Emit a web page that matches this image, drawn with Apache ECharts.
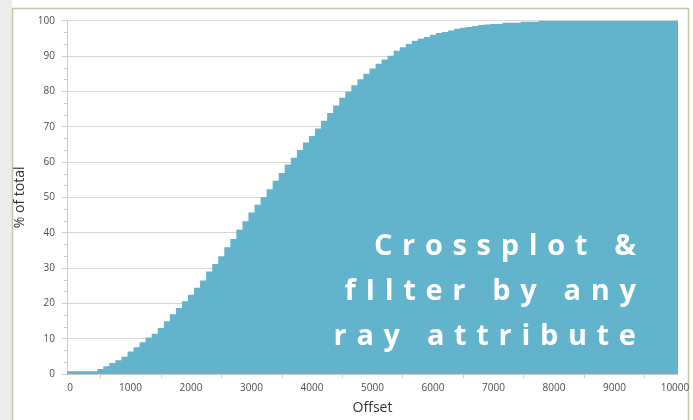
<!DOCTYPE html>
<html>
<head>
<meta charset="utf-8">
<script src="https://cdn.jsdelivr.net/npm/echarts@6/dist/echarts.min.js"></script>
<style>
  html, body { margin: 0; padding: 0; background: #fff; }
  #chart { width: 693px; height: 420px; }
</style>
</head>
<body>
<div id="chart"></div>
<script>
// offset bins, 100 wide, 0 .. 10000
const offsets = Array.from({ length: 101 }, (_, i) => String(i * 100));

// cumulative % of total per bin
const pctTotal = [
  0.8, 0.8, 0.8, 0.8, 0.8, 1.4, 2.2, 3.1, 3.9, 4.9,
  6.4, 7.6, 9.0, 10.3, 11.4, 13.0, 14.9, 16.9, 18.7, 20.6,
  22.4, 24.4, 26.5, 29.0, 31.1, 33.3, 35.9, 38.2, 40.8, 43.2,
  45.7, 47.9, 50.0, 52.3, 54.7, 56.9, 59.3, 61.2, 63.4, 65.5,
  67.4, 69.5, 71.7, 73.9, 76.0, 78.2, 79.9, 81.7, 83.4, 85.0,
  86.5, 87.8, 89.0, 90.1, 91.5, 92.5, 93.4, 94.3, 94.9, 95.4,
  96.0, 96.5, 96.8, 97.2, 97.7, 98.0, 98.2, 98.5, 98.8, 98.9,
  99.1, 99.1, 99.4, 99.4, 99.4, 99.7, 99.7, 99.7, 100, 100,
  100, 100, 100, 100, 100, 100, 100, 100, 100, 100,
  100, 100, 100, 100, 100, 100, 100, 100, 100, 100,
  100
];

const overlayLines = ["Crossplot &", "fIlter by any", "ray attribute"];

// wide letter spacing, done with three-per-em spaces
function spaced(s) {
  return s.split("").join("\u2004");
}

const barColor = "#62b3cc";
const lineColor = "#cccccc";

let chart = echarts.init(document.getElementById("chart"));
let option = {
  animation: false,
  textStyle: { fontFamily: "Open Sans" },
  grid: { left: 67, right: 15, top: 20.7, bottom: 44 },
  xAxis: {
    type: "category",
    data: offsets,
    name: "Offset",
    nameLocation: "middle",
    nameGap: 27,
    nameTextStyle: { fontSize: 14, color: "#333" },
    axisLine: { lineStyle: { color: lineColor } },
    axisTick: {
      show: true,
      alignWithLabel: true,
      length: 4,
      interval: (i) => i % 10 === 5,
      lineStyle: { color: lineColor },
    },
    axisLabel: {
      interval: (i) => i % 10 === 0,
      margin: 9,
      fontSize: 10,
      color: "#4d4d4d",
    },
    splitLine: { show: false },
  },
  yAxis: {
    type: "value",
    min: 0,
    max: 100,
    interval: 10,
    name: "% of total",
    nameLocation: "middle",
    nameRotate: 90,
    nameGap: 35,
    nameTextStyle: { fontSize: 14, color: "#333" },
    axisLine: { show: true, lineStyle: { color: lineColor } },
    axisTick: { show: true, length: 5, lineStyle: { color: lineColor } },
    minorTick: { show: true, splitNumber: 3, length: 3, lineStyle: { color: lineColor } },
    axisLabel: { margin: 12, fontSize: 10, color: "#4d4d4d" },
    splitLine: { show: true, lineStyle: { color: "#d6d6d6" } },
  },
  series: [
    {
      type: "bar",
      data: pctTotal,
      barCategoryGap: "0%",
      // large mode draws all bars as one path, so no seams between them
      large: true,
      largeThreshold: 50,
      itemStyle: { color: barColor },
      z: 3,
    },
  ],
  graphic: [
    {
      type: "rect",
      shape: { x: 0, y: 0, width: 12, height: 420 },
      style: { fill: "#ececec" },
      silent: true,
    },
    {
      type: "polyline",
      shape: { points: [[12.5, 420], [12.5, 8.5], [688.5, 8.5], [688.5, 420]] },
      style: { stroke: "#cbc49f", lineWidth: 1.5, fill: null },
      silent: true,
    },
    {
      type: "text",
      x: 636,
      y: 292,
      z: 100,
      silent: true,
      style: {
        text: overlayLines.map(spaced).join("\n"),
        fill: "#ffffff",
        fontSize: 29,
        fontWeight: "bold",
        fontFamily: "Open Sans",
        lineHeight: 45,
        align: "right",
        verticalAlign: "middle",
      },
    },
  ],
};
chart.setOption(option);
</script>
</body>
</html>
